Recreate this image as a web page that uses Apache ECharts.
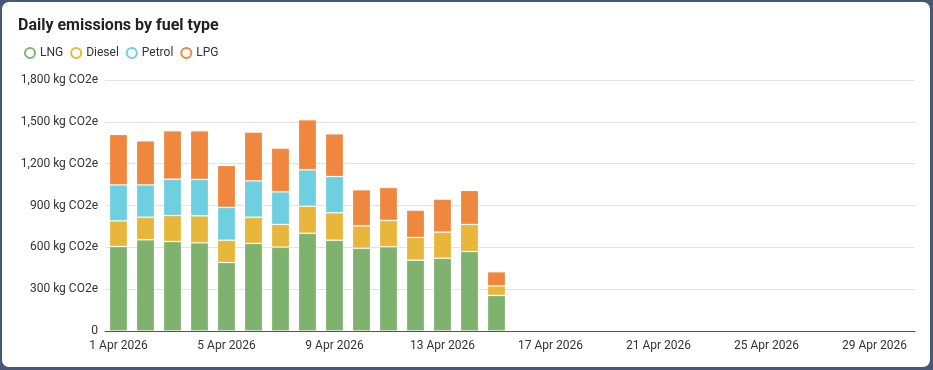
<!DOCTYPE html>
<html>
<head>
<meta charset="utf-8">
<script src="https://cdn.jsdelivr.net/npm/echarts@6/dist/echarts.min.js"></script>
<style>
html,body{margin:0;padding:0;width:933px;height:370px;background:#4a5877;overflow:hidden;}
#card{position:absolute;left:2px;top:2px;width:928px;height:365px;background:#fff;border-radius:7px;}
#chart{position:absolute;left:0;top:0;width:933px;height:370px;}
</style>
</head>
<body>
<div id="card"></div>
<div id="chart"></div>
<script>
const days = Array.from({length:30},(_,i)=>(i+1)+' Apr 2026');
const lng    = [606,654,642,632,491,628,601,701,651,594,604,508,522,570,255];
const diesel = [184,162,186,194,160,188,163,194,197,160,189,163,187,194,69];
const petrol = [258,232,261,261,235,261,234,261,260,0,0,0,0,0,0];
const lpg    = [361,316,347,349,301,349,313,359,306,259,236,195,236,244,101];
const seriesNames = ['LNG','Diesel','Petrol','LPG'];
const colors = ['#7fb26f','#e8b63a','#6ecfe0','#ef873f'];

const chart = echarts.init(document.getElementById('chart'), null, {renderer:'canvas'});
const mk = (name, data, color) => ({
  name, type:'bar', stack:'total', data, barWidth:18,
  itemStyle:{color, borderColor:'rgba(255,255,255,0.22)', borderWidth:1},
  emphasis:{disabled:true}
});
chart.setOption({
  animation:false,
  textStyle:{fontFamily:'Roboto'},
  title:{text:'Daily emissions by fuel type', left:13, top:13,
    textStyle:{fontSize:16, fontWeight:'bold', color:'#222', fontFamily:'Roboto'}},
  legend:{left:19, top:42, icon:'emptyCircle', itemWidth:10, itemHeight:10, itemGap:7,
    data:seriesNames, textStyle:{fontSize:12, color:'#333', fontFamily:'Roboto'}},
  grid:{left:105, right:18, top:80, bottom:39, containLabel:false},
  xAxis:{type:'category', data:days, boundaryGap:true,
    axisLine:{lineStyle:{color:'#555', width:1}}, axisTick:{show:false},
    axisLabel:{interval:3, color:'#333', fontSize:12, margin:9, fontFamily:'Roboto'}},
  yAxis:{type:'value', min:0, max:1800, interval:300,
    axisLine:{show:false}, axisTick:{show:false},
    splitLine:{lineStyle:{color:'#e2e2e8'}},
    axisLabel:{color:'#333', fontSize:12, margin:7, fontFamily:'Roboto',
      formatter:v=> v===0 ? '0' : v.toLocaleString('en-US')+' kg CO2e'}},
  series:[mk('LNG',lng,colors[0]), mk('Diesel',diesel,colors[1]), mk('Petrol',petrol,colors[2]), mk('LPG',lpg,colors[3])]
});
</script>
</body>
</html>
